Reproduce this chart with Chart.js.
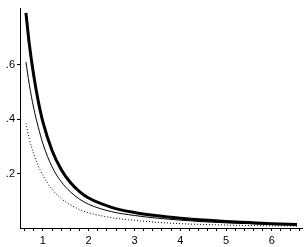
<!DOCTYPE html>
<html>
<head>
<meta charset="utf-8">
<script src="https://cdn.jsdelivr.net/npm/chart.js@4/dist/chart.umd.min.js"></script>
<style>
html,body{margin:0;padding:0;background:#fff;}
#wrap{width:307px;height:247px;}
</style>
</head>
<body>
<div id="wrap"><canvas id="chart" width="307" height="247"></canvas></div>
<script>

/* DATA */

let xs      = [0.63,0.7,0.8,0.9,1.0,1.2,1.4,1.6,1.8,2.0,2.5,3.0,3.5,4.0,4.5,5.0,5.5,6.0,6.55];
let thick   = [0.79,0.68,0.56,0.465,0.39,0.285,0.215,0.167,0.134,0.11,0.076,0.057,0.045,0.036,0.029,0.024,0.02,0.016,0.013];
let thin    = [0.61,0.53,0.44,0.37,0.31,0.225,0.17,0.133,0.106,0.087,0.06,0.046,0.036,0.029,0.023,0.019,0.016,0.013,0.011];
let dotted  = [0.385,0.33,0.272,0.228,0.193,0.142,0.108,0.085,0.068,0.056,0.038,0.028,0.021,0.016,0.013,0.011,0.009,0.008,0.007];

let yTicks = [0.2,0.4,0.6];
let yLabels = [".2",".4",".6"];
let xTicks = [1,2,3,4,5,6];


function points(ys){
return xs.map((x,i)=>({x:x,y:ys[i]}));
}

let ctx = document.getElementById("chart").getContext("2d");

new Chart(ctx,{

type:'scatter',

data:{
datasets:[
{data:points(thick),borderColor:"#000",borderWidth:3},
{data:points(thin),borderColor:"#000",borderWidth:1},
{data:points(dotted),borderColor:"#000",borderWidth:1,borderDash:[1,2]}
]
},

options:{
responsive:false,
animation:false,
layout:{padding:{top:3,right:5,left:0,bottom:0}},
plugins:{legend:{display:false},tooltip:{enabled:false}},
elements:{
point:{radius:0},
line:{cubicInterpolationMode:'monotone',fill:false}
},
datasets:{scatter:{showLine:true}},
scales:{
x:{
type:'linear',
min:0.5,
max:6.66,
afterFit:s=>{s.height=19;},
afterBuildTicks:axis=>{
let t=[];
for(let v=0.6;v<6.61;v+=0.2){t.push({value:Math.round(v*10)/10});}
axis.ticks=t;
},
border:{color:"#000",width:1},
grid:{drawOnChartArea:false,drawTicks:true,tickLength:3,color:"#000"},
ticks:{
autoSkip:false,
maxRotation:0,
padding:3,
color:"#000",
font:{family:"Liberation Sans",size:11},
callback:v=>xTicks.includes(v)?String(v):""
}
},
y:{
type:'linear',
min:0,
max:0.806,
afterFit:s=>{s.width=20;},
afterBuildTicks:axis=>{
axis.ticks=yTicks.map(v=>({value:v}));
},
border:{color:"#000",width:1},
grid:{drawOnChartArea:false,drawTicks:true,tickLength:3,color:"#000"},
ticks:{
padding:2,
color:"#000",
font:{family:"Liberation Sans",size:11},
callback:v=>yLabels[yTicks.indexOf(v)]
}
}
}
}

});

</script>
</body>
</html>
